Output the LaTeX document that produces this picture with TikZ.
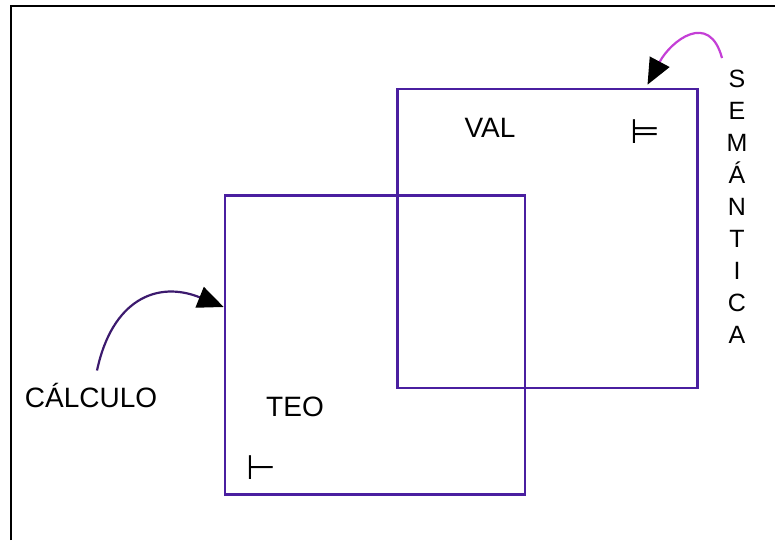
\documentclass[tikz,border=0pt]{standalone}
\usepackage{fontspec}
\setmainfont{Liberation Sans}
\newfontfamily\symfont{DejaVu Sans}
\usetikzlibrary{arrows.meta,positioning}
\definecolor{ink}{HTML}{4A1FA0}
\definecolor{pen}{HTML}{3C1A6E}
\definecolor{rose}{HTML}{C43FD6}

\begin{document}
\begin{tikzpicture}[x=1pt,y=-1pt,
  sq/.style={draw=ink,line width=2.6pt,minimum width=300pt,minimum height=299pt,inner sep=0pt},
  hand/.style={font=\fontsize{28}{28}\selectfont,inner sep=0pt},
  sym/.style={font=\symfont\fontsize{34}{34}\selectfont,inner sep=0pt},
  tip/.style={-{Triangle[length=26pt,width=22pt,color=black]},line width=2.2pt}]
  \useasboundingbox (0,0) rectangle (775,540);
  % paper edge
  \draw[line width=1.6pt] (11,540) -- (11,6) -- (775,6);
  % the two worlds
  \node[sq] (teo) at (375,345) {};
  \node[sq] (val) at (547.5,238.5) {};
  % labels inside
  \node[hand] (teo-lbl) at (295,407) {TEO};
  \node[sym] (vd) at (261,468) {⊢};
  \node[hand] (val-lbl) at (490,128) {VAL};
  \node[sym] (md) at (645,132) {⊨};
  % outside
  \node[hand] (calc) at (91,395) {CÁLCULO};
  \node[font=\fontsize{25}{32}\selectfont,align=center,inner sep=0pt] (sem) at (737,207)
    {S\\E\\M\\Á\\N\\T\\I\\C\\A};
  \draw[tip,pen] ([xshift=6pt,yshift=12pt]calc.north) to[out=78,in=158,looseness=1.3] ([yshift=38pt]teo.west);
  \draw[tip,rose] ([xshift=-15pt,yshift=12pt]sem.north) to[out=105,in=62,looseness=1.6] ([xshift=100pt,yshift=3pt]val.north);
\end{tikzpicture}
\end{document}
